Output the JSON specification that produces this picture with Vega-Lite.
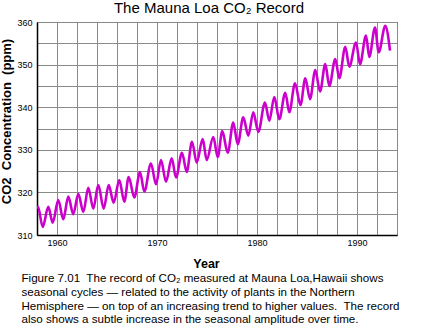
{
  "$schema": "https://vega.github.io/schema/vega-lite/v6.json",
  "background": "white",
  "padding": {"left": 0, "top": 0, "right": 0, "bottom": 0},
  "title": {
    "text": [
      "Figure 7.01\u00a0 The record of CO₂ measured at Mauna Loa,Hawaii shows",
      "seasonal cycles — related to the activity of plants in the Northern",
      "Hemisphere — on top of an increasing trend to higher values.\u00a0 The record",
      "also shows a subtle increase in the seasonal amplitude over time."
    ],
    "orient": "bottom",
    "anchor": "start",
    "frame": "bounds",
    "font": "Liberation Sans",
    "fontSize": 11.6,
    "fontWeight": "normal",
    "lineHeight": 13.8,
    "color": "black",
    "offset": 3,
    "dx": 21
  },
  "config": {
    "view": {"stroke": "black", "strokeWidth": 1},
    "axis": {
      "labelFont": "Liberation Sans",
      "labelFontSize": 9,
      "labelColor": "black",
      "titleFont": "Liberation Sans",
      "titleFontWeight": "bold",
      "titleFontSize": 13,
      "titleColor": "black",
      "gridColor": "#8a8a8a",
      "gridWidth": 1,
      "gridOpacity": 1,
      "domainColor": "black",
      "domainWidth": 1.5,
      "tickSize": 0,
      "labelOverlap": false
    }
  },
  "vconcat": [
    {
      "width": 360,
      "height": 213,
      "title": {
        "text": "The Mauna Loa CO₂ Record",
        "font": "Liberation Sans",
        "fontSize": 15,
        "fontWeight": "normal",
        "color": "black",
        "anchor": "middle",
        "offset": 2,
        "dx": -8
      },
      "data": {
        "values": [
          {"t": 1958.0, "co2": 316.2},
          {"t": 1958.1, "co2": 316.6},
          {"t": 1958.57, "co2": 311.9},
          {"t": 1959.13, "co2": 316.6},
          {"t": 1959.57, "co2": 312.9},
          {"t": 1960.13, "co2": 318.2},
          {"t": 1960.63, "co2": 313.7},
          {"t": 1961.13, "co2": 319.0},
          {"t": 1961.63, "co2": 314.9},
          {"t": 1962.13, "co2": 319.7},
          {"t": 1962.63, "co2": 315.4},
          {"t": 1963.13, "co2": 321.1},
          {"t": 1963.63, "co2": 316.2},
          {"t": 1964.13, "co2": 321.7},
          {"t": 1964.67, "co2": 316.2},
          {"t": 1965.17, "co2": 321.7},
          {"t": 1965.67, "co2": 317.6},
          {"t": 1966.23, "co2": 322.9},
          {"t": 1966.73, "co2": 317.8},
          {"t": 1967.17, "co2": 323.6},
          {"t": 1967.73, "co2": 318.8},
          {"t": 1968.3, "co2": 324.8},
          {"t": 1968.73, "co2": 320.2},
          {"t": 1969.4, "co2": 326.8},
          {"t": 1969.9, "co2": 321.9},
          {"t": 1970.4, "co2": 327.6},
          {"t": 1970.9, "co2": 322.5},
          {"t": 1971.47, "co2": 328.0},
          {"t": 1971.9, "co2": 323.5},
          {"t": 1972.5, "co2": 329.3},
          {"t": 1972.97, "co2": 324.8},
          {"t": 1973.5, "co2": 331.9},
          {"t": 1973.97, "co2": 327.0},
          {"t": 1974.57, "co2": 332.5},
          {"t": 1974.97, "co2": 327.6},
          {"t": 1975.63, "co2": 333.0},
          {"t": 1976.07, "co2": 328.3},
          {"t": 1976.53, "co2": 334.4},
          {"t": 1977.07, "co2": 329.3},
          {"t": 1977.63, "co2": 336.4},
          {"t": 1978.07, "co2": 331.3},
          {"t": 1978.63, "co2": 337.6},
          {"t": 1979.13, "co2": 333.3},
          {"t": 1979.63, "co2": 338.8},
          {"t": 1980.13, "co2": 334.2},
          {"t": 1980.8, "co2": 341.1},
          {"t": 1981.23, "co2": 336.8},
          {"t": 1981.73, "co2": 342.4},
          {"t": 1982.23, "co2": 337.2},
          {"t": 1982.83, "co2": 343.4},
          {"t": 1983.23, "co2": 338.8},
          {"t": 1983.8, "co2": 345.6},
          {"t": 1984.35, "co2": 340.5},
          {"t": 1984.83, "co2": 346.8},
          {"t": 1985.3, "co2": 341.9},
          {"t": 1985.83, "co2": 348.7},
          {"t": 1986.3, "co2": 343.7},
          {"t": 1986.83, "co2": 350.1},
          {"t": 1987.23, "co2": 345.0},
          {"t": 1987.83, "co2": 351.3},
          {"t": 1988.23, "co2": 346.8},
          {"t": 1988.83, "co2": 354.2},
          {"t": 1989.23, "co2": 349.5},
          {"t": 1989.9, "co2": 355.2},
          {"t": 1990.3, "co2": 350.1},
          {"t": 1990.9, "co2": 356.8},
          {"t": 1991.23, "co2": 351.8},
          {"t": 1991.8, "co2": 358.7},
          {"t": 1992.17, "co2": 352.9},
          {"t": 1992.83, "co2": 359.1},
          {"t": 1993.3, "co2": 353.3}
        ]
      },
      "mark": {"type": "line", "color": "#cc00cc", "strokeWidth": 2.6, "interpolate": "monotone", "clip": true},
      "encoding": {
        "x": {
          "field": "t",
          "type": "quantitative",
          "scale": {"domain": [1958, 1994], "nice": false, "zero": false},
          "axis": {
            "title": "Year",
            "titleFontSize": 12.5,
            "values": [1958, 1960, 1962, 1964, 1966, 1968, 1970, 1972, 1974, 1976, 1978, 1980, 1982, 1984, 1986, 1988, 1990, 1992, 1994],
            "labelExpr": "datum.value % 10 === 0 ? datum.label : ''",
            "format": "d",
            "labelPadding": 3,
            "titlePadding": 10,
            "titleX": 169,
            "labelFlush": false
          }
        },
        "y": {
          "field": "co2",
          "type": "quantitative",
          "scale": {"domain": [310, 360], "nice": false, "zero": false},
          "axis": {
            "title": "CO2\u00a0 Concentration\u00a0 (ppm)",
            "values": [310, 315, 320, 325, 330, 335, 340, 345, 350, 355, 360],
            "labelExpr": "datum.value % 10 === 0 ? datum.label : ''",
            "labelPadding": 5,
            "titlePadding": 3,
            "titleY": 99
          }
        }
      }
    }
  ]
}
